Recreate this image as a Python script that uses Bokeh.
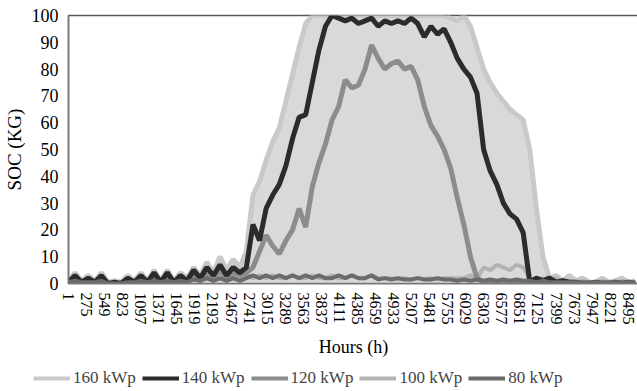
from bokeh.plotting import figure
from bokeh.models import Range1d, FixedTicker, Legend, LegendItem
from bokeh.layouts import column
from bokeh.embed import file_html
from bokeh.resources import INLINE

# ---- data ----
hours = [1] + [i * 100 for i in range(1, 87)]
tick_hours = [1, 275, 549, 823, 1097, 1371, 1645, 1919, 2193, 2467, 2741, 3015,
              3289, 3563, 3837, 4111, 4385, 4659, 4933, 5207, 5481, 5755, 6029,
              6303, 6577, 6851, 7125, 7399, 7673, 7947, 8221, 8495]

soc_160 = [1, 4, 1, 3, 1, 4, 0.5, 1, 0.5, 3,
           1, 4, 1, 5, 1, 5, 1, 4, 2, 6,
           3, 8, 4, 10, 5, 9, 6, 12, 33, 38,
           46, 53, 58, 68, 78, 88, 97,
           100, 100, 100, 100, 100, 100, 100, 100, 100, 100, 100, 100,
           100, 100, 100, 100, 100, 100, 100, 100, 100, 99, 98, 100,
           96, 88, 80, 75, 71, 68, 65, 63, 61, 50,
           28, 10, 2, 3, 1, 3, 1, 2, 0.5, 0.5,
           2, 0.5, 1, 2, 0.5, 1]
soc_140 = [0.5, 3, 0.5, 2, 0.5, 3, 0, 0.5, 0, 2,
           0.5, 3, 0.5, 4, 0.5, 4, 0.5, 3, 1, 5,
           2, 6, 3, 7, 3, 6, 4, 6, 22, 16,
           28, 33, 37, 44, 54, 62, 63, 75, 87, 96,
           100, 99, 98, 99, 97, 98, 99, 96, 98, 97,
           98, 97, 99, 97, 92, 96, 93, 95, 90, 84,
           80, 77, 71, 50, 42, 37, 30, 26, 24, 19,
           0.5, 2, 1, 2, 0.5, 1, 0.5, 0.5, 0, 0,
           0.5, 0, 0, 0.5, 0, 0.5, 0]
soc_120 = [0.5, 2, 0.5, 1, 0.5, 2, 0, 0, 0, 1,
           0.5, 2, 0.5, 3, 0.5, 2, 0.5, 2, 1, 3,
           1, 4, 2, 5, 2, 4, 3, 4, 6, 12,
           18, 14, 11, 16, 20, 28, 21, 36, 45, 52,
           61, 66, 76, 73, 74, 80, 89, 84, 80, 82,
           83, 80, 81, 76, 66, 59, 55, 50, 43, 32,
           22, 10, 2, 0.5, 0, 0.5, 0, 0.5, 0, 0.5,
           0, 0.5, 0, 0, 0, 0, 0, 0, 0, 0,
           0, 0, 0, 0, 0, 0, 0]
soc_100 = [0.5, 2, 0.5, 1, 0.5, 1.5, 0, 0.5, 0, 1,
           0.5, 2, 0.5, 2, 0.5, 2, 0.5, 2, 1, 3,
           1, 3, 2, 4, 2, 3, 2, 3, 2, 3,
           2, 3, 2, 2, 3, 2, 2, 3, 2, 2,
           3, 2, 2, 3, 2, 2, 3, 2, 2, 2,
           1.5, 2, 1.5, 2, 1.5, 2, 1.5, 2, 2, 2,
           2, 3, 2, 6, 5, 7, 6, 5, 7, 6,
           2, 1, 2, 1, 2, 0.5, 1, 0.5, 1, 0.5,
           0.5, 1, 0.5, 0.5, 1, 0.5, 0.5]
soc_80 = [0.5, 1, 0.5, 0.5, 0.5, 1, 0, 0, 0, 0.5,
          0.5, 1, 0.5, 1, 0.5, 1, 0.5, 1, 0.5, 1.5,
          1, 2, 1, 2, 1, 2, 1, 2, 3, 2,
          3, 2, 3, 2, 3, 2, 3, 2, 3, 2,
          2, 3, 2, 3, 2, 2, 3, 1.5, 2, 1.5,
          2, 1.5, 1.5, 2, 1.5, 1.5, 2, 1.5, 1.5, 1,
          1.5, 1, 1.5, 1, 1.5, 1, 1.5, 1, 1.5, 1,
          1, 0.5, 1, 0.5, 0.5, 0.5, 0.5, 0.5, 0.5, 0.5,
          0.5, 0.5, 0.5, 0.5, 0.5, 0.5, 0.5]

series_names = ["160 kWp", "140 kWp", "120 kWp", "100 kWp", "80 kWp"]
series_colors = ["#c9c9c9", "#2b2b2b", "#8c8c8c", "#b3b3b3", "#6b6b6b"]
series_widths = [5, 5, 5, 4, 4]

FONT = "Liberation Serif"

p = figure(frame_width=570, frame_height=268, output_backend="svg", toolbar_location=None,
           x_range=Range1d(1, 8650), y_range=Range1d(0, 100))
p.min_border_top = 15
p.min_border_right = 1
p.min_border_left = 66
p.min_border_bottom = 80
p.grid.visible = False
p.outline_line_color = "#555555"
p.outline_line_width = 1.5
p.background_fill_color = "white"
p.border_fill_color = "white"

# filled band of the largest system
p.varea(x=hours, y1=[0] * len(hours), y2=soc_160, fill_color="#d9d9d9")

data = {"160 kWp": soc_160, "140 kWp": soc_140, "120 kWp": soc_120,
        "100 kWp": soc_100, "80 kWp": soc_80}
draw_order = ["160 kWp", "100 kWp", "120 kWp", "140 kWp", "80 kWp"]
for name in draw_order:
    i = series_names.index(name)
    p.line(hours, data[name], line_color=series_colors[i], line_width=series_widths[i])

# axes
p.yaxis.ticker = FixedTicker(ticks=list(range(0, 101, 10)))
p.yaxis.axis_label = "SOC (KG)"
p.xaxis.ticker = FixedTicker(ticks=tick_hours)
p.xaxis.axis_label = "Hours (h)"
p.xaxis.major_label_orientation = "vertical"
for ax in (p.xaxis[0], p.yaxis[0]):
    ax.major_tick_line_color = None
    ax.minor_tick_line_color = None
    ax.axis_line_color = "#777777"
    ax.axis_line_width = 1.5
    ax.major_label_text_font = FONT
    ax.axis_label_text_font = FONT
    ax.axis_label_text_font_style = "normal"
    ax.axis_label_text_color = "black"
    ax.major_label_text_color = "black"
p.yaxis.major_label_text_font_size = "18px"
p.yaxis.axis_label_text_font_size = "19px"
p.yaxis.major_label_standoff = 4
p.yaxis.axis_label_standoff = 4
p.xaxis.major_label_text_font_size = "16px"
p.xaxis.axis_label_text_font_size = "18px"
p.xaxis.major_label_standoff = 3
p.xaxis.axis_label_standoff = 9

# legend strip underneath (one-point lines: nothing drawn, legend glyph only)
lg = figure(width=637, height=28, output_backend="svg", toolbar_location=None,
            x_range=Range1d(0, 1), y_range=Range1d(0, 1))
lg.min_border = 0
lg.axis.visible = False
lg.grid.visible = False
lg.outline_line_color = None
legend_x = 0
if "frame_align" in lg.properties():
    lg.frame_align = False
    legend_x = 33
items = []
for i, name in enumerate(series_names):
    r = lg.line([hours[0]], [data[name][0]], line_color=series_colors[i], line_width=4)
    items.append(LegendItem(label=name, renderers=[r]))
legend = Legend(items=items, orientation="horizontal", location=(legend_x, 3))
legend.label_text_font = FONT
legend.label_text_font_size = "17px"
legend.glyph_width = 37
legend.glyph_height = 12
legend.spacing = 6
legend.label_standoff = 3
legend.padding = 0
legend.margin = 0
legend.border_line_color = None
legend.background_fill_alpha = 0
lg.add_layout(legend)

layout = column(p, lg, spacing=0)
open("out.html", "w").write(file_html(layout, INLINE))
